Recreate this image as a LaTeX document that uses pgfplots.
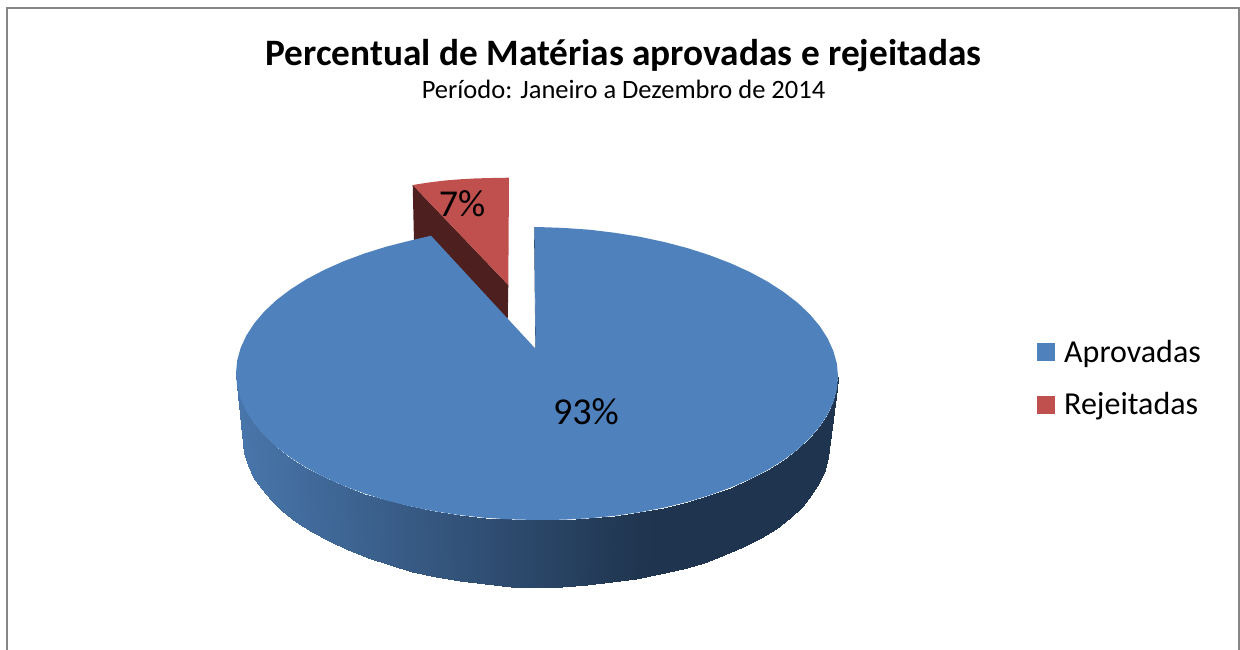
\documentclass[border=0pt]{standalone}
\usepackage{fontspec}
\setmainfont{Carlito}
\usepackage{pgfplots}
\pgfplotsset{compat=1.18}
\definecolor{cBlue}{HTML}{4F81BD}
\definecolor{cRed}{HTML}{C0504D}
\definecolor{cDark}{HTML}{4D1F1E}
\definecolor{cEdge}{HTML}{2C4A6E}
\definecolor{cBorder}{HTML}{868686}
\begin{document}
\begin{tikzpicture}
\begin{axis}[
  width=1240pt,height=650pt,scale only axis,
  xmin=0,xmax=1240,ymin=0,ymax=650,y dir=reverse,
  hide axis,
  colormap={side}{color(0cm)=(rgb,255:red,31;green,52;blue,78) color(1cm)=(rgb,255:red,72;green,117;blue,170)},
  point meta min=0,point meta max=1,
]
% chart border
\addplot[cBorder,line width=1.5pt,mark=none,forget plot] coordinates {(7,650)(7,8)(1239,8)(1239,650)};
% side of the pie
\addplot[surf,shader=interp,mesh/rows=2,mesh/ordering=x varies,mesh/check=false,point meta=explicit,forget plot]
 table[x=x,y=y,meta=c] {
x y c
838.0 376.5 0
836.9 389.3 0
833.4 401.9 0
827.7 414.3 0
819.8 426.4 0
809.8 438.1 0
797.7 449.4 0
783.6 460.0 0
767.6 470.0 0
749.8 479.2 0
730.5 487.6 0
709.6 495.2 0
687.5 501.9 0
664.2 507.6 0
639.9 512.2 .025
614.9 515.8 .086
589.3 518.3 .148
563.2 519.7 .21
537.0 520.0 .276
510.8 519.4 .34
484.7 517.8 .403
459.1 515.0 .466
434.1 511.2 .527
409.8 506.3 .586
386.5 500.4 .643
364.4 493.5 .696
343.5 485.7 .747
324.2 477.1 .795
306.4 467.7 .838
290.4 457.5 .877
276.3 446.8 .911
264.2 435.4 .941
254.2 423.6 .965
246.3 411.4 .985
240.6 398.9 .999
237.1 386.3 1
236.0 373.5 1
829.0 444.0 0
827.9 457.0 0
824.5 470.0 0
819.0 483.0 0
811.3 495.0 0
801.5 507.0 0
789.7 518.0 0
776.0 528.5 0
760.5 538.0 0
743.2 547.0 0
724.3 555.3 0
704.1 562.5 0
682.5 568.7 0
659.8 574.2 0
636.2 578.8 .025
611.8 582.4 .086
586.9 584.8 .148
561.5 586.5 .21
536.0 587.0 .276
510.5 586.5 .34
485.1 584.3 .403
460.2 581.2 .466
435.8 576.8 .527
412.2 571.5 .586
389.5 565.2 .643
367.9 558.0 .696
347.7 549.8 .747
328.8 541.0 .795
311.5 531.6 .838
296.0 521.6 .877
282.3 511.0 .911
270.5 499.9 .941
260.7 488.3 .965
253.0 476.8 .985
247.5 465.0 .999
244.1 453.0 1
243.0 441.0 1
};
% exploded slice: dark cut face, then top face
\addplot[draw=none,fill=cDark,mark=none,forget plot] coordinates {(412.7,185)(508.3,285)(507.7,320)(414,242)};
\addplot[draw=none,fill=cRed,mark=none,forget plot] coordinates {(412.7,185)(428,182.6)(444,180.6)(460,179.3)(476,178.4)(492,178)(509,177.7)(508.3,285)};
% thin inner edge of the large slice
\addplot[cEdge,line width=0.6pt,mark=none,forget plot] coordinates {(534.3,227)(535.7,349)};
% top face of the large slice
\addplot[draw=none,fill=cBlue,mark=none,forget plot] coordinates {
(535.7,349)(534.6,227)(537,227)(563.2,227.9)(589.3,229.7)(614.9,232.8)(639.9,236.8)(664.2,242.0)(687.5,248.1)(709.6,255.2)(730.5,263.2)(749.8,272.0)(767.6,281.6)(783.6,292.0)(797.7,302.8)(809.8,314.3)(819.8,326.2)(827.7,338.5)(833.4,351.1)(836.9,363.7)(838,376.5)
(836.9,389.3)(833.4,401.9)(827.7,414.3)(819.8,426.4)(809.8,438.1)(797.7,449.4)(783.6,460.0)(767.6,470.0)(749.8,479.2)(730.5,487.6)(709.6,495.2)(687.5,501.9)(664.2,507.6)(639.9,512.2)(614.9,515.8)(589.3,518.3)(563.2,519.7)(537,520)
(510.8,519.4)(484.7,517.8)(459.1,515.0)(434.1,511.2)(409.8,506.3)(386.5,500.4)(364.4,493.5)(343.5,485.7)(324.2,477.1)(306.4,467.7)(290.4,457.5)(276.3,446.8)(264.2,435.4)(254.2,423.6)(246.3,411.4)(240.6,398.9)(237.1,386.3)(236,373.5)
(237.1,360.7)(240.6,348.1)(246.3,335.6)(254.2,323.4)(264.2,311.6)(276.3,300.2)(290.4,289.5)(306.4,279.3)(324.2,269.9)(343.5,261.3)(364.4,253.5)(386.5,246.6)(409.8,240.7)(431,235.7)};
% legend keys
\addplot[draw=none,fill=cBlue,mark=none,forget plot] coordinates {(1037,343.3)(1055,343.3)(1055,360.7)(1037,360.7)};
\addplot[draw=none,fill=cRed,mark=none,forget plot] coordinates {(1037,396)(1055,396)(1055,414)(1037,414)};
% texts
\node[anchor=base,font=\bfseries\fontsize{37.3}{40}\selectfont,inner sep=0pt] at (axis cs:623.5,66) {Percentual de Matérias aprovadas e rejeitadas};
\node[anchor=base,font=\fontsize{26.5}{30}\selectfont,inner sep=0pt] at (axis cs:623.5,99) {Período: Janeiro a Dezembro de 2014};
\node[anchor=base,font=\fontsize{38}{40}\selectfont,inner sep=0pt] at (axis cs:586,424) {93\%};
\node[anchor=base,font=\fontsize{38}{40}\selectfont,inner sep=0pt] at (axis cs:462,216) {7\%};
\node[anchor=base west,font=\fontsize{32}{34}\selectfont,inner sep=0pt] at (axis cs:1064,362) {Aprovadas};
\node[anchor=base west,font=\fontsize{32}{34}\selectfont,inner sep=0pt] at (axis cs:1064,414) {Rejeitadas};
\end{axis}
\path[use as bounding box] (current axis.south west) rectangle (current axis.north east);
\end{tikzpicture}
\end{document}
